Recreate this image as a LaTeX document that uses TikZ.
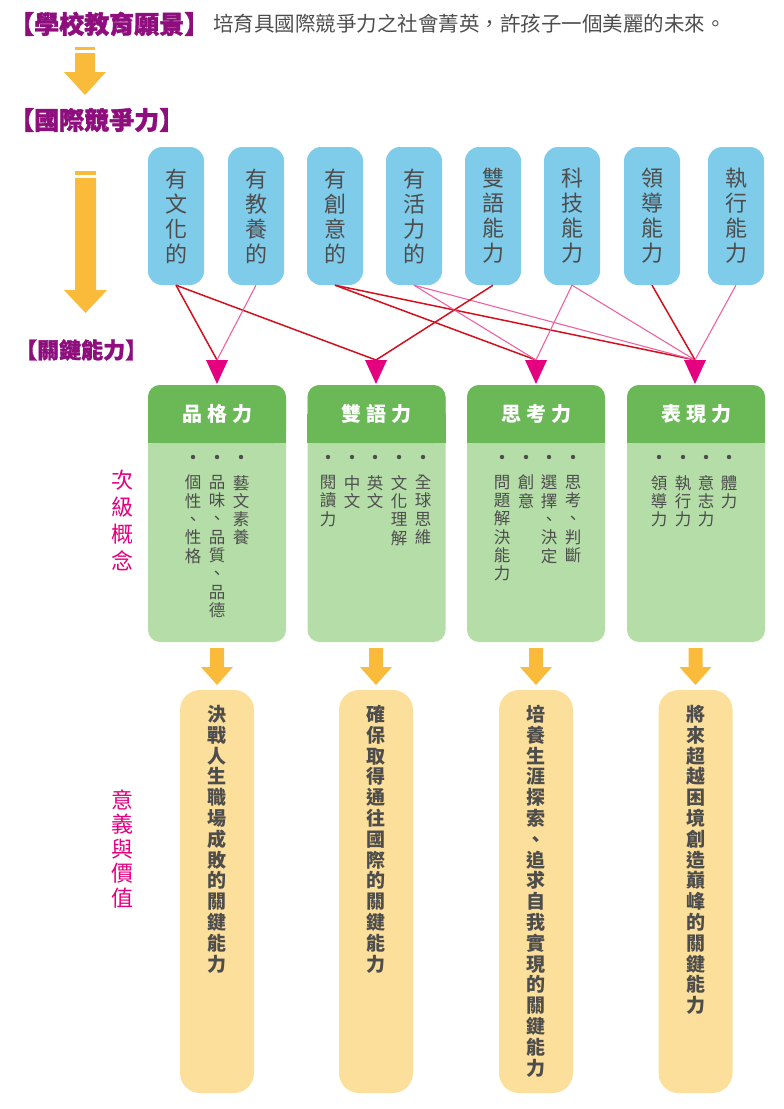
\documentclass[tikz,border=0pt]{standalone}
\usepackage{fontspec}
\setmainfont{Noto Sans CJK TC}
\newfontfamily\heavycjk{Noto Sans CJK TC}[BoldFeatures={FakeBold=1.5}]
\usetikzlibrary{calc}
\definecolor{ttpurple}{RGB}{142,14,126}
\definecolor{ttmag}{RGB}{228,0,127}
\definecolor{ttred}{RGB}{211,16,30}
\definecolor{ttpink}{RGB}{238,98,160}
\definecolor{ttblue}{RGB}{127,203,234}
\definecolor{ttgreen}{RGB}{106,185,86}
\definecolor{ttlight}{RGB}{181,221,168}
\definecolor{ttorange}{RGB}{249,187,57}
\definecolor{ttcream}{RGB}{252,223,154}
\definecolor{tttext}{RGB}{77,77,77}

\begin{document}
\begin{tikzpicture}[x=1pt,y=-1pt,line join=round,
  title/.style={anchor=west,inner sep=0pt,text=ttpurple,font=\heavycjk\fontsize{25}{25}\selectfont\bfseries},
  side/.style={inner sep=0pt,align=center,text=ttmag,font=\fontsize{22}{27}\selectfont},
  quality/.style={fill=ttblue,rounded corners=14pt,minimum width=56pt,minimum height=138pt,inner sep=0pt,align=center,text=tttext,font=\fontsize{22}{25}\selectfont},
  panel/.style={fill=ttlight,rounded corners=12pt,minimum width=138pt,minimum height=257pt,inner sep=0pt},
  panelhead/.style={fill=ttgreen,rounded corners=12pt,minimum width=138pt,minimum height=58pt,inner sep=0pt,text=white,font=\fontsize{20}{20}\selectfont\bfseries},
  item/.style={anchor=north,inner sep=0pt,align=center,text=tttext,font=\fontsize{16.5}{18.3}\selectfont},
  meaning/.style={fill=ttcream,rounded corners=20pt,minimum width=74pt,minimum height=403pt,inner sep=0pt},
  meaningtext/.style={anchor=north,inner sep=0pt,align=center,text=tttext,font=\fontsize{19}{20.8}\selectfont\bfseries},
  redlink/.style={ttred,line width=1.5pt},
  pinklink/.style={ttpink,line width=1.1pt}]
\useasboundingbox (0,0) rectangle (784,1109);
\node[title] (vision) at (9,24) {【學校教育願景】};
\node[anchor=west,inner sep=0pt,text=tttext,font=\fontsize{20.5}{20.5}\selectfont] (visiontext) at (213,24) {培育具國際競爭力之社會菁英，許孩子一個美麗的未來。};
\node[title] (global) at (9,120) {【國際競爭力】};
\node[title,font=\heavycjk\fontsize{22}{22}\selectfont\bfseries] (key) at (15,350) {【關鍵能力】};
\node[side] (sub) at (122,520) {次\\級\\概\\念};
\node[side,font=\fontsize{22}{24.5}\selectfont] (value) at (122,849) {意\\義\\與\\價\\值};

\fill[ttorange] (75,47) rectangle (95,50);
\fill[ttorange] (75,53) -- (95,53) -- (95,72) -- (106,72) -- (85,95) -- (64,72) -- (75,72) -- cycle;
\fill[ttorange] (75,171) rectangle (96,175);
\fill[ttorange] (75,178) -- (96,178) -- (96,290) -- (107,290) -- (85.5,313) -- (64,290) -- (75,290) -- cycle;

\foreach \i/\x/\t in {1/176/有\\文\\化\\的,2/256/有\\教\\養\\的,3/335/有\\創\\意\\的,4/414/有\\活\\力\\的,5/493/雙\\語\\能\\力,6/572/科\\技\\能\\力,7/652/領\\導\\能\\力,8/736/執\\行\\能\\力}
  \node[quality] (q\i) at (\x,216) {\t};
\foreach \i/\x in {1/217,2/376,3/536,4/695}
  \coordinate (t\i) at (\x,360);
\foreach \a/\b/\c in {1/1/redlink,1/2/redlink,2/1/pinklink,3/3/redlink,3/4/redlink,4/3/pinklink,4/4/pinklink,5/2/redlink,6/3/pinklink,6/4/pinklink,7/4/redlink,8/4/pinklink}
  \draw[\c] (q\a.south) -- (t\b);
\foreach \i in {1,...,4}
  \fill[ttmag] ($(t\i)+(-11,0)$) -- ($(t\i)+(11,0)$) -- ($(t\i)+(0,24)$) -- cycle;

\foreach \i/\x/\t in {1/217/品\hspace{5pt}格\hspace{5pt}力,2/376.5/雙\hspace{5pt}語\hspace{5pt}力,3/536/思\hspace{5pt}考\hspace{5pt}力,4/696/表\hspace{5pt}現\hspace{5pt}力}{
  \node[panel] (g\i) at (\x,513.5) {};
  \fill[ttgreen] ($(g\i.north west)+(0,29)$) rectangle ($(g\i.north east)+(0,58)$);
  \node[panelhead,anchor=north] (h\i) at (g\i.north) {\t};
}
\foreach \x/\t [count=\n] in {193/個\\性\\、\\性\\格,217/品\\味\\、\\品\\質\\、\\品\\德,241/藝\\文\\素\\養,
  328/閱\\讀\\力,352/中\\文,375/英\\文,399/文\\化\\理\\解,423/全\\球\\思\\維,
  502/問\\題\\解\\決\\能\\力,526/創\\意,549/選\\擇\\、\\決\\定,573/思\\考\\、\\判\\斷,
  659/領\\導\\力,683/執\\行\\力,706/意\\志\\力,729/體\\力}{
  \fill[tttext] (\x,457) circle (2.2pt);
  \node[item] (c\n) at (\x,475) {\t};
}

\foreach \i/\x/\t in {1/217/決\\戰\\人\\生\\職\\場\\成\\敗\\的\\關\\鍵\\能\\力,2/376/確\\保\\取\\得\\通\\往\\國\\際\\的\\關\\鍵\\能\\力,3/536/培\\養\\生\\涯\\探\\索\\、\\追\\求\\自\\我\\實\\現\\的\\關\\鍵\\能\\力,4/695.5/將\\來\\超\\越\\困\\境\\創\\造\\巔\\峰\\的\\關\\鍵\\能\\力}{
  \fill[ttorange] (\x-7,648) -- (\x+7,648) -- (\x+7,667) -- (\x+16,667) -- (\x,685) -- (\x-16,667) -- (\x-7,667) -- cycle;
  \node[meaning] (m\i) at (\x,891.5) {};
  \node[meaningtext] (mt\i) at (\x,705) {\t};
}
\end{tikzpicture}
\end{document}
